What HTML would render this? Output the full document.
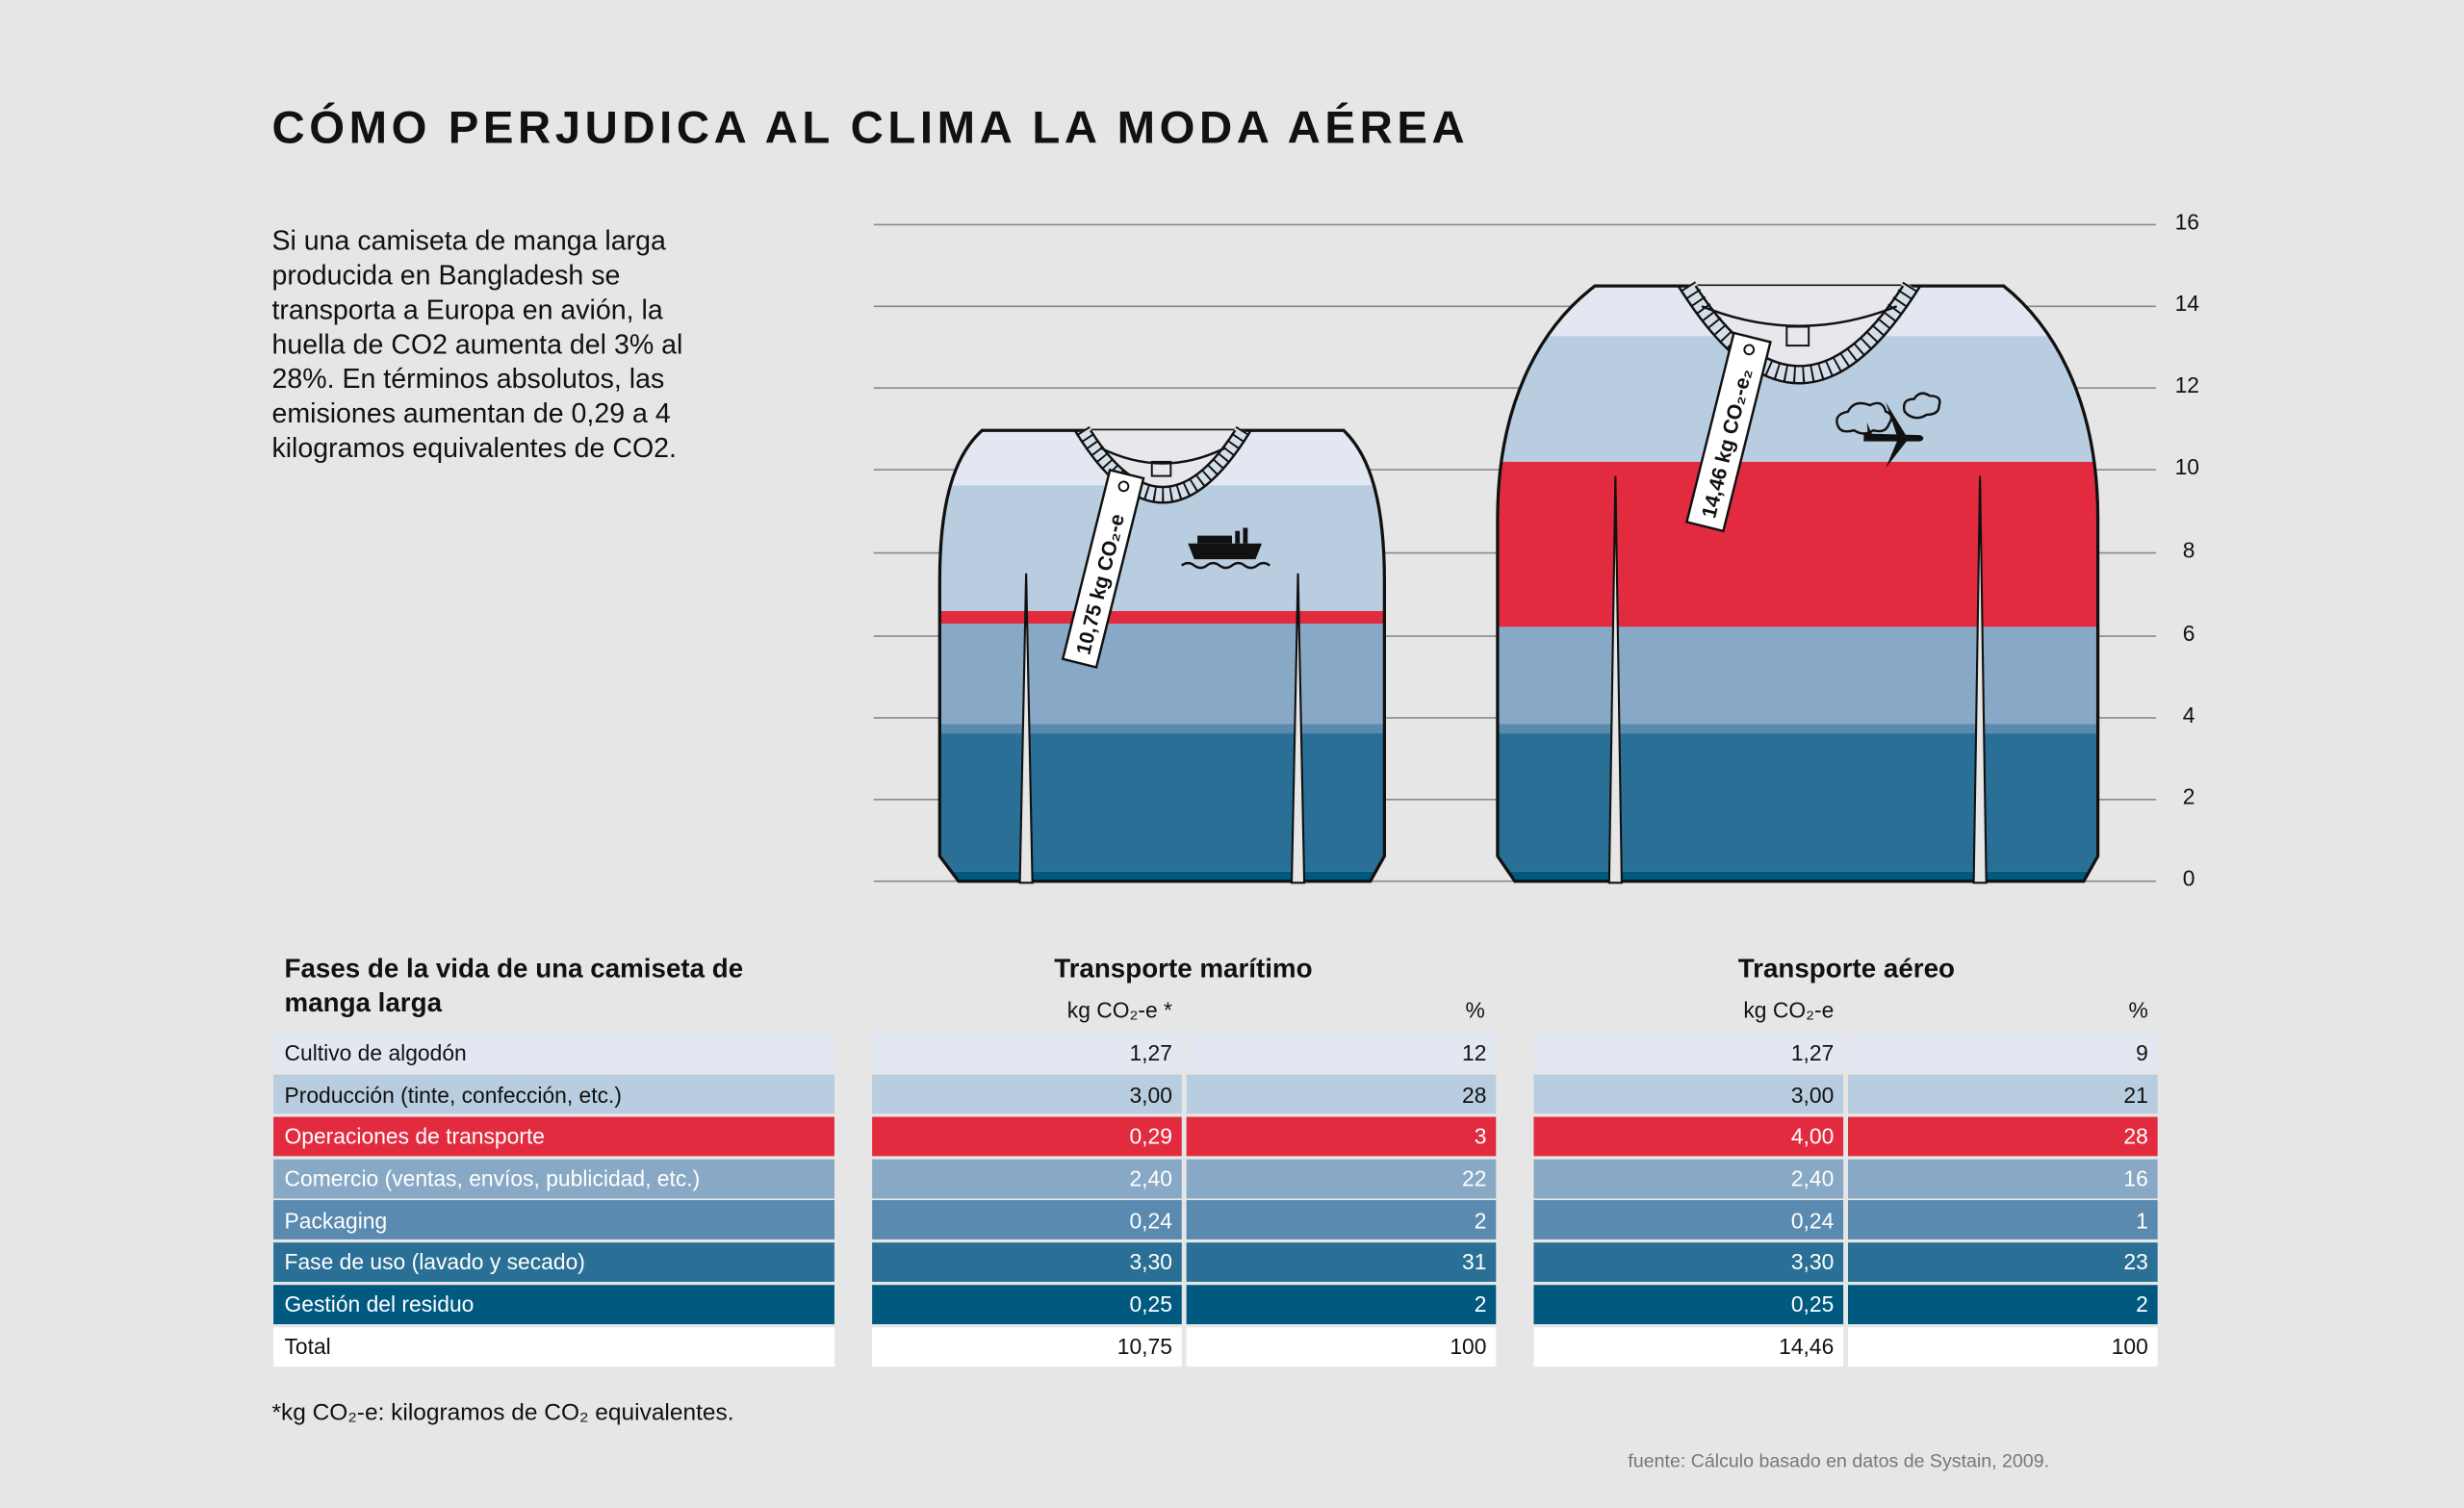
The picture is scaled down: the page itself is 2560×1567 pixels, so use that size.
<!DOCTYPE html>
<html><head><meta charset="utf-8"><style>
html,body{margin:0;padding:0;background:#e6e6e6}
svg{display:block}
text{font-family:"Liberation Sans",sans-serif}
</style></head><body>
<svg width="2560" height="1567" viewBox="0 0 1568 960" preserveAspectRatio="none" xmlns="http://www.w3.org/2000/svg">
<rect width="1568" height="960" fill="#e6e6e6"/>
<text x="173" y="91" font-size="29" font-weight="bold" fill="#111" letter-spacing="2.8">CÓMO PERJUDICA AL CLIMA LA MODA AÉREA</text>
<g font-size="17.5" fill="#111">
<text x="173" y="159">Si una camiseta de manga larga</text>
<text x="173" y="181">producida en Bangladesh se</text>
<text x="173" y="203">transporta a Europa en avión, la</text>
<text x="173" y="225">huella de CO2 aumenta del 3% al</text>
<text x="173" y="247">28%. En términos absolutos, las</text>
<text x="173" y="269">emisiones aumentan de 0,29 a 4</text>
<text x="173" y="291">kilogramos equivalentes de CO2.</text>
</g>
<g stroke="#8a8a8a" stroke-width="1">
<line x1="556" y1="143" x2="1372" y2="143"/><line x1="556" y1="195" x2="1372" y2="195"/>
<line x1="556" y1="247" x2="1372" y2="247"/><line x1="556" y1="299" x2="1372" y2="299"/>
<line x1="556" y1="352" x2="1372" y2="352"/><line x1="556" y1="405" x2="1372" y2="405"/>
<line x1="556" y1="457" x2="1372" y2="457"/><line x1="556" y1="509" x2="1372" y2="509"/>
<line x1="556" y1="561" x2="1372" y2="561"/>
</g>
<g font-size="14" fill="#111">
<text x="1384" y="146">16</text><text x="1384" y="198">14</text><text x="1384" y="250">12</text>
<text x="1384" y="302">10</text><text x="1389" y="355">8</text><text x="1389" y="408">6</text>
<text x="1389" y="460">4</text><text x="1389" y="512">2</text><text x="1389" y="564">0</text>
</g>
<defs>
<clipPath id="c1"><path d="M625,274 L855,274 C872,290 881,320 881,370 L881,545 L872,561 L610,561 L598,545 L598,370 C598,320 607,290 625,274 Z"/></clipPath>
<clipPath id="c2"><path d="M1015,182 L1275,182 C1310,210 1335,260 1335,330 L1335,545 L1326,561 L964,561 L953,545 L953,330 C953,260 978,210 1015,182 Z"/></clipPath>
</defs>
<g clip-path="url(#c1)">
<rect x="590" y="270" width="300" height="44" fill="#e3e7f2"/>
<rect x="590" y="309" width="300" height="83" fill="#b9cde0"/>
<rect x="590" y="389" width="300" height="8" fill="#e32b40"/>
<rect x="590" y="397" width="300" height="65" fill="#88a9c5"/>
<rect x="590" y="461" width="300" height="7" fill="#5a8aaf"/>
<rect x="590" y="467" width="300" height="88" fill="#2a7096"/>
<rect x="590" y="555" width="300" height="8" fill="#005a80"/>
</g>
<path d="M625,274 L855,274 C872,290 881,320 881,370 L881,545 L872,561 L610,561 L598,545 L598,370 C598,320 607,290 625,274 Z" fill="none" stroke="#111" stroke-width="2"/>
<polygon points="653,365 649,562 657,562" fill="#e6e6e6" stroke="#111" stroke-width="1.3"/>
<polygon points="826,365 822,562 830,562" fill="#e6e6e6" stroke="#111" stroke-width="1.3"/>
<path d="M689,274 Q740,356 791,274 Z" fill="#e8e8ec"/>
<path d="M689,274 Q740,356 791,274" fill="none" stroke="#d5dfea" stroke-width="10"/>
<path d="M689,274 Q740,356 791,274" fill="none" stroke="#111" stroke-width="10" stroke-dasharray="1.2,4"/>
<path d="M684,274 Q740,366 796,274" fill="none" stroke="#111" stroke-width="1.5"/>
<path d="M694,274 Q740,346 786,274" fill="none" stroke="#111" stroke-width="1.5"/>
<path d="M700,285 Q740,305 780,285" fill="none" stroke="#111" stroke-width="1.5"/>
<rect x="733" y="294" width="12" height="9" fill="none" stroke="#111" stroke-width="1.2"/>
<g transform="translate(702,362) rotate(-76)">
<rect x="-62" y="-11" width="124" height="22" fill="#fff" stroke="#111" stroke-width="1.5"/>
<circle cx="54" cy="0" r="3" fill="none" stroke="#111" stroke-width="1.2"/>
<text x="-56" y="5" font-size="13" font-weight="bold" fill="#111">10,75 kg CO₂-e</text>
</g>
<g fill="#111">
<path d="M756,346 L803,346 L799,356 L760,356 Z"/>
<rect x="762" y="341" width="22" height="5"/>
<rect x="786" y="338" width="3" height="8"/><rect x="791" y="336" width="3" height="10"/>
<path d="M752,360 q4,-3 8,0 q4,3 8,0 q4,-3 8,0 q4,3 8,0 q4,-3 8,0 q4,3 8,0 q4,-3 8,0" fill="none" stroke="#111" stroke-width="1.5"/>
</g>
<g clip-path="url(#c2)">
<rect x="940" y="178" width="400" height="39" fill="#e3e7f2"/>
<rect x="940" y="214" width="400" height="81" fill="#b9cde0"/>
<rect x="940" y="294" width="400" height="105.5" fill="#e32b40"/>
<rect x="940" y="399" width="400" height="63" fill="#88a9c5"/>
<rect x="940" y="461" width="400" height="7" fill="#5a8aaf"/>
<rect x="940" y="467" width="400" height="88" fill="#2a7096"/>
<rect x="940" y="555" width="400" height="8" fill="#005a80"/>
</g>
<path d="M1015,182 L1275,182 C1310,210 1335,260 1335,330 L1335,545 L1326,561 L964,561 L953,545 L953,330 C953,260 978,210 1015,182 Z" fill="none" stroke="#111" stroke-width="2"/>
<polygon points="1028,303 1024,562 1032,562" fill="#e6e6e6" stroke="#111" stroke-width="1.3"/>
<polygon points="1260,303 1256,562 1264,562" fill="#e6e6e6" stroke="#111" stroke-width="1.3"/>
<path d="M1074,182 Q1145,296 1216,182 Z" fill="#e8e8ec"/>
<path d="M1074,182 Q1145,296 1216,182" fill="none" stroke="#d5dfea" stroke-width="11"/>
<path d="M1074,182 Q1145,296 1216,182" fill="none" stroke="#111" stroke-width="11" stroke-dasharray="1.2,4.5"/>
<path d="M1068,182 Q1145,306 1222,182" fill="none" stroke="#111" stroke-width="1.5"/>
<path d="M1079,182 Q1145,284 1211,182" fill="none" stroke="#111" stroke-width="1.5"/>
<path d="M1083,195 Q1145,220 1207,195" fill="none" stroke="#111" stroke-width="1.5"/>
<rect x="1137" y="208" width="14" height="12" fill="none" stroke="#111" stroke-width="1.2"/>
<g transform="translate(1100,275) rotate(-76)">
<rect x="-62" y="-12" width="124" height="24" fill="#fff" stroke="#111" stroke-width="1.5"/>
<circle cx="54" cy="0" r="3" fill="none" stroke="#111" stroke-width="1.2"/>
<text x="-56" y="5" font-size="13" font-weight="bold" fill="#111">14,46 kg CO₂-e₂</text>
</g>
<g>
<path d="M1170,272 q-4,-8 6,-10 q4,-8 14,-4 q8,-4 10,4 q6,2 2,8 q-2,6 -10,4 q-6,4 -12,0 q-8,2 -10,-2 Z" fill="none" stroke="#111" stroke-width="1.5"/>
<path d="M1212,262 q-2,-8 6,-8 q4,-6 10,-2 q8,0 6,6 q0,6 -8,6 q-6,4 -12,0 Z" fill="none" stroke="#111" stroke-width="1.5"/>
<path d="M1186,276 L1222,277 Q1226,279 1222,281 L1186,281 Z" fill="#111"/>
<path d="M1200,256 L1214,279 L1208,280 Z" fill="#111"/>
<path d="M1208,279 L1214,280 L1200,298 Z" fill="#111"/>
<path d="M1188,269 L1192,278 L1189,279 Z" fill="#111"/>
</g>
<g font-size="17" font-weight="bold" fill="#111">
<text x="181" y="622">Fases de la vida de una camiseta de</text>
<text x="181" y="644">manga larga</text>
<text x="753" y="622" text-anchor="middle">Transporte marítimo</text>
<text x="1175" y="622" text-anchor="middle">Transporte aéreo</text>
</g>
<g font-size="14" fill="#111">
<text x="746" y="648" text-anchor="end">kg CO₂-e *</text>
<text x="945" y="648" text-anchor="end">%</text>
<text x="1167" y="648" text-anchor="end">kg CO₂-e</text>
<text x="1367" y="648" text-anchor="end">%</text>
</g>
<g>
<g fill="#e3e7f2"><rect x="174" y="657" width="357" height="25"/><rect x="555" y="657" width="197" height="25"/><rect x="755" y="657" width="197" height="25"/><rect x="976" y="657" width="197" height="25"/><rect x="1176" y="657" width="197" height="25"/></g>
<g fill="#b9cde0"><rect x="174" y="684" width="357" height="25"/><rect x="555" y="684" width="197" height="25"/><rect x="755" y="684" width="197" height="25"/><rect x="976" y="684" width="197" height="25"/><rect x="1176" y="684" width="197" height="25"/></g>
<g fill="#e32b40"><rect x="174" y="711" width="357" height="25"/><rect x="555" y="711" width="197" height="25"/><rect x="755" y="711" width="197" height="25"/><rect x="976" y="711" width="197" height="25"/><rect x="1176" y="711" width="197" height="25"/></g>
<g fill="#88a9c5"><rect x="174" y="738" width="357" height="25"/><rect x="555" y="738" width="197" height="25"/><rect x="755" y="738" width="197" height="25"/><rect x="976" y="738" width="197" height="25"/><rect x="1176" y="738" width="197" height="25"/></g>
<g fill="#5a8aaf"><rect x="174" y="764" width="357" height="25"/><rect x="555" y="764" width="197" height="25"/><rect x="755" y="764" width="197" height="25"/><rect x="976" y="764" width="197" height="25"/><rect x="1176" y="764" width="197" height="25"/></g>
<g fill="#2a7096"><rect x="174" y="791" width="357" height="25"/><rect x="555" y="791" width="197" height="25"/><rect x="755" y="791" width="197" height="25"/><rect x="976" y="791" width="197" height="25"/><rect x="1176" y="791" width="197" height="25"/></g>
<g fill="#005a80"><rect x="174" y="818" width="357" height="25"/><rect x="555" y="818" width="197" height="25"/><rect x="755" y="818" width="197" height="25"/><rect x="976" y="818" width="197" height="25"/><rect x="1176" y="818" width="197" height="25"/></g>
<g fill="#ffffff"><rect x="174" y="845" width="357" height="25"/><rect x="555" y="845" width="197" height="25"/><rect x="755" y="845" width="197" height="25"/><rect x="976" y="845" width="197" height="25"/><rect x="1176" y="845" width="197" height="25"/></g>
</g>
<g font-size="14">
<g fill="#111"><text x="181" y="675">Cultivo de algodón</text><text x="746" y="675" text-anchor="end">1,27</text><text x="946" y="675" text-anchor="end">12</text><text x="1167" y="675" text-anchor="end">1,27</text><text x="1367" y="675" text-anchor="end">9</text></g>
<g fill="#111"><text x="181" y="702">Producción (tinte, confección, etc.)</text><text x="746" y="702" text-anchor="end">3,00</text><text x="946" y="702" text-anchor="end">28</text><text x="1167" y="702" text-anchor="end">3,00</text><text x="1367" y="702" text-anchor="end">21</text></g>
<g fill="#fff"><text x="181" y="728">Operaciones de transporte</text><text x="746" y="728" text-anchor="end">0,29</text><text x="946" y="728" text-anchor="end">3</text><text x="1167" y="728" text-anchor="end">4,00</text><text x="1367" y="728" text-anchor="end">28</text></g>
<g fill="#fff"><text x="181" y="755">Comercio (ventas, envíos, publicidad, etc.)</text><text x="746" y="755" text-anchor="end">2,40</text><text x="946" y="755" text-anchor="end">22</text><text x="1167" y="755" text-anchor="end">2,40</text><text x="1367" y="755" text-anchor="end">16</text></g>
<g fill="#fff"><text x="181" y="782">Packaging</text><text x="746" y="782" text-anchor="end">0,24</text><text x="946" y="782" text-anchor="end">2</text><text x="1167" y="782" text-anchor="end">0,24</text><text x="1367" y="782" text-anchor="end">1</text></g>
<g fill="#fff"><text x="181" y="808">Fase de uso (lavado y secado)</text><text x="746" y="808" text-anchor="end">3,30</text><text x="946" y="808" text-anchor="end">31</text><text x="1167" y="808" text-anchor="end">3,30</text><text x="1367" y="808" text-anchor="end">23</text></g>
<g fill="#fff"><text x="181" y="835">Gestión del residuo</text><text x="746" y="835" text-anchor="end">0,25</text><text x="946" y="835" text-anchor="end">2</text><text x="1167" y="835" text-anchor="end">0,25</text><text x="1367" y="835" text-anchor="end">2</text></g>
<g fill="#111"><text x="181" y="862">Total</text><text x="746" y="862" text-anchor="end">10,75</text><text x="946" y="862" text-anchor="end">100</text><text x="1167" y="862" text-anchor="end">14,46</text><text x="1367" y="862" text-anchor="end">100</text></g>
</g>
<text x="173" y="904" font-size="15" fill="#111">*kg CO₂-e: kilogramos de CO₂ equivalentes.</text>
<text x="1036" y="934" font-size="12" fill="#777">fuente: Cálculo basado en datos de Systain, 2009.</text>
</svg>
</body></html>
